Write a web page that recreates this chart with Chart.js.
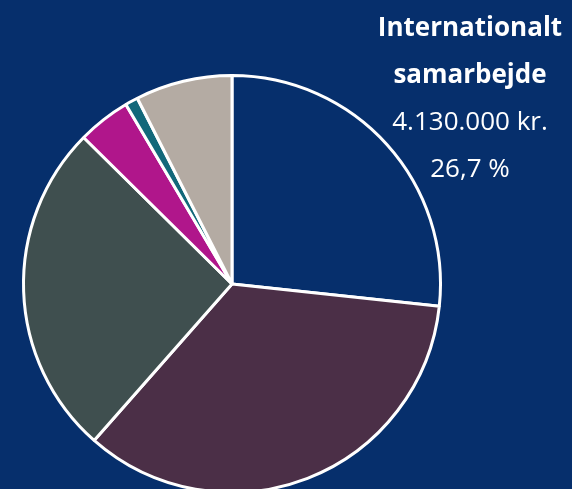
<!DOCTYPE html>
<html>
<head>
<meta charset="utf-8">
<script src="https://cdn.jsdelivr.net/npm/chart.js@4"></script>
<style>
  html, body { margin: 0; padding: 0; }
  body { width: 572px; height: 489px; overflow: hidden; background: #062f6c; position: relative; }
  #pieWrap { position: absolute; left: 0; top: 52px; width: 464px; height: 464px; }
  #label { position: absolute; left: 350px; top: 3px; width: 240px; text-align: center;
           color: #fff; font-family: "Open Sans", sans-serif; font-size: 26px; line-height: 47px; }
  #label b { font-weight: 700; }
</style>
</head>
<body>
<div id="pieWrap"><canvas id="budgetChart" width="464" height="464"></canvas></div>
<div id="label"><b>Internationalt</b><br><b>samarbejde</b><br>4.130.000 kr.<br>26,7 %</div>
<script>
const categories = ['Internationalt samarbejde', 'Post 2', 'Post 3', 'Post 4', 'Post 5', 'Post 6'];
const shares = [26.7, 34.8, 25.9, 4.1, 1.0, 7.5];
const colors = ['#062f6c', '#4b2f47', '#3f4f4f', '#b0168b', '#12687a', '#b4aba3'];

(function() {
    const ctx = document.getElementById('budgetChart');
    new Chart(ctx, {
        type: 'pie',
        data: {
            labels: categories,
            datasets: [{
                data: shares,
                backgroundColor: colors,
                borderColor: '#ffffff',
                borderWidth: 3
            }]
        },
        options: {
            responsive: false,
            animation: false,
            layout: { padding: 22 },
            plugins: {
                legend: { display: false },
                tooltip: { enabled: false }
            }
        }
    });
})();
</script>
</body>
</html>
